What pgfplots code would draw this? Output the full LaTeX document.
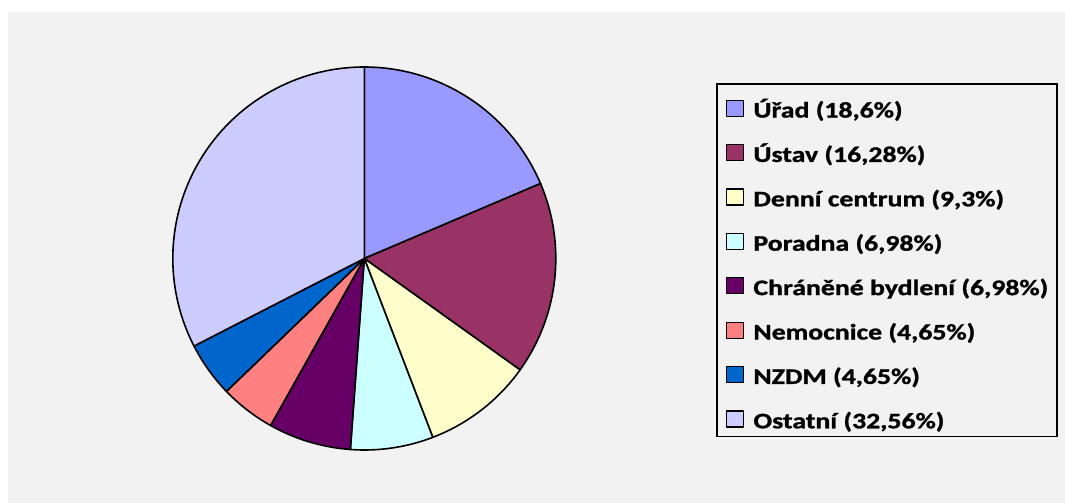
\documentclass[border=0pt]{standalone}
\usepackage{pgfplots}
\pgfplotsset{compat=1.18}
\usepackage{fontspec}
\setmainfont{Carlito}
\newfontfamily\legfont[FakeStretch=1.25, BoldFeatures={FakeBold=1.2}]{Carlito}
\definecolor{bgc}{HTML}{F2F2F2}
\definecolor{c1}{HTML}{9999FF}
\definecolor{c2}{HTML}{993366}
\definecolor{c3}{HTML}{FFFFCC}
\definecolor{c4}{HTML}{CCFFFF}
\definecolor{c5}{HTML}{660066}
\definecolor{c6}{HTML}{FF8080}
\definecolor{c7}{HTML}{0066CC}
\definecolor{c8}{HTML}{CCCCFF}
% cumulative shares in percent: 0, 18.6, 34.88, 44.18, 51.16, 58.14, 62.79, 67.44, 100
\begin{document}
\begin{tikzpicture}
\useasboundingbox (0,0) rectangle (1065bp,503bp);
\fill[white] (0,0) rectangle (1065bp,503bp);
\fill[bgc] (8bp,0) rectangle (1065bp,491bp);
\begin{axis}[
  at={(364.3bp,244.5bp)}, anchor=center,
  scale only axis, width=383bp, height=383bp,
  xmin=-1, xmax=1, ymin=-1, ymax=1,
  hide axis, clip=false,
  area legend,
  legend cell align=left,
  legend image code/.code={%
    \path[draw=none, fill=none] (0bp,0bp) rectangle (27bp,0bp);
    \draw[#1, draw=black, line width=1.2bp] (0bp,1.4bp) rectangle (17bp,17.4bp);},
  legend style={at={(1.4183,0.9582)}, anchor=north west,
    draw=black, line width=1.6bp, fill=bgc,
    font=\legfont\bfseries\fontsize{22.3}{26}\selectfont,
    inner xsep=9bp, inner ysep=3bp, row sep=8.5bp,
    cells={anchor=base west},
    nodes={inner sep=0bp, text height=30.7bp, text depth=5.2bp}},
  every axis plot/.append style={draw=black, line width=1.6bp, line join=round},
]
\addplot[fill=c1, domain={90-3.6*18.6}:{90-3.6*0}, samples=80, variable=\t] ({cos(t)},{sin(t)}) -- (axis cs:0,0) -- cycle;
\addlegendentry{Úřad (18,6\%)}
\addplot[fill=c2, domain={90-3.6*34.88}:{90-3.6*18.6}, samples=80, variable=\t] ({cos(t)},{sin(t)}) -- (axis cs:0,0) -- cycle;
\addlegendentry{Ústav (16,28\%)}
\addplot[fill=c3, domain={90-3.6*44.18}:{90-3.6*34.88}, samples=50, variable=\t] ({cos(t)},{sin(t)}) -- (axis cs:0,0) -- cycle;
\addlegendentry{Denní centrum (9,3\%)}
\addplot[fill=c4, domain={90-3.6*51.16}:{90-3.6*44.18}, samples=40, variable=\t] ({cos(t)},{sin(t)}) -- (axis cs:0,0) -- cycle;
\addlegendentry{Poradna (6,98\%)}
\addplot[fill=c5, domain={90-3.6*58.14}:{90-3.6*51.16}, samples=40, variable=\t] ({cos(t)},{sin(t)}) -- (axis cs:0,0) -- cycle;
\addlegendentry{Chráněné bydlení (6,98\%)}
\addplot[fill=c6, domain={90-3.6*62.79}:{90-3.6*58.14}, samples=30, variable=\t] ({cos(t)},{sin(t)}) -- (axis cs:0,0) -- cycle;
\addlegendentry{Nemocnice (4,65\%)}
\addplot[fill=c7, domain={90-3.6*67.44}:{90-3.6*62.79}, samples=30, variable=\t] ({cos(t)},{sin(t)}) -- (axis cs:0,0) -- cycle;
\addlegendentry{NZDM (4,65\%)}
\addplot[fill=c8, domain={450-3.6*100}:{450-3.6*67.44}, samples=120, variable=\t] ({cos(t)},{sin(t)}) -- (axis cs:0,0) -- cycle;
\addlegendentry{Ostatní (32,56\%)}
\end{axis}
\end{tikzpicture}
\end{document}
